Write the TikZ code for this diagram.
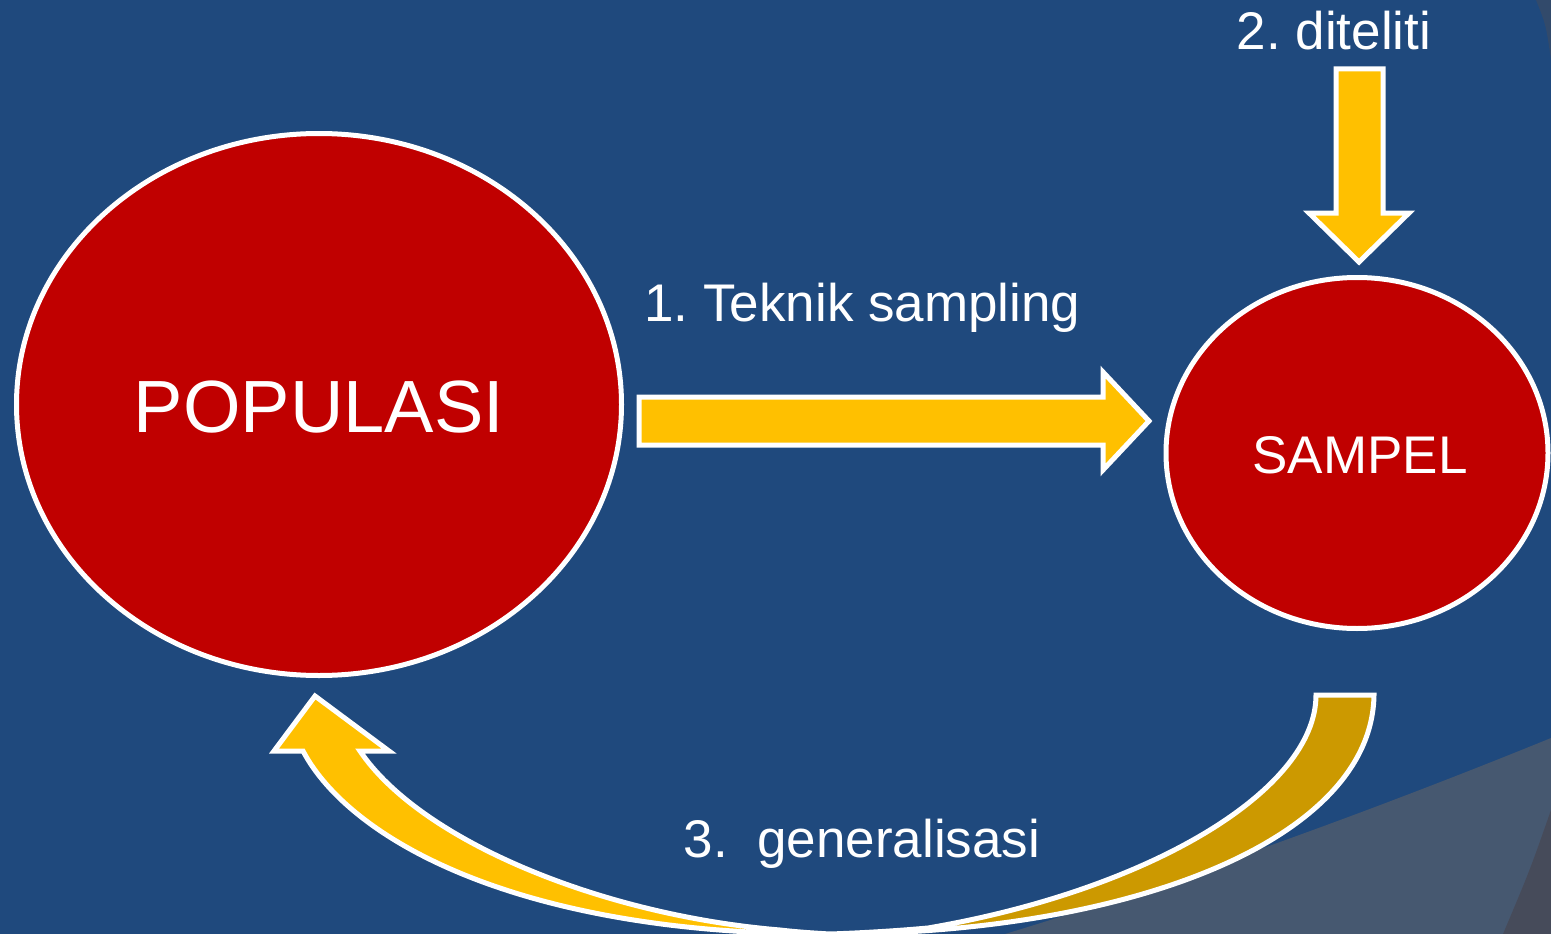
\documentclass[tikz,border=0pt]{standalone}
\usepackage{fontspec}
\setmainfont{Liberation Sans}
\usetikzlibrary{shapes.geometric}
\frenchspacing
\definecolor{bgblue}{RGB}{31,73,125}
\definecolor{popred}{RGB}{192,0,0}
\definecolor{arrowyellow}{RGB}{255,192,0}
\definecolor{arrowdark}{RGB}{204,153,0}
\definecolor{greyshade}{RGB}{70,88,112}
\definecolor{greydark}{RGB}{70,75,90}
\tikzset{
  circ/.style={ellipse, draw=white, line width=5pt, fill=popred, inner sep=0pt, text=white},
  blockarrow/.style={draw=white, line width=5pt, fill=arrowyellow, line join=miter},
  backarrow/.style={draw=white, line width=5pt, fill=arrowdark, line join=miter},
  lbl/.style={text=white, anchor=base, inner sep=0pt, font=\fontsize{53}{60}\selectfont},
}
\begin{document}
\begin{tikzpicture}[x=1pt, y=-1pt]
\useasboundingbox (0,0) rectangle (1551,934);
\clip (0,0) rectangle (1551,934);
% background
\fill[bgblue] (0,0) rectangle (1551,934);
\fill[greyshade] (1551,738) .. controls (1350,820) and (1150,890) .. (1005,934) -- (1551,934) -- cycle;
\fill[greydark] (1551,810) .. controls (1530,870) .. (1503,934) -- (1551,934) -- cycle;
\fill[greydark, opacity=0.5] (1536,0) .. controls (1546,25) .. (1551,60) -- (1551,0) -- cycle;

% ellipses
\node[circ, minimum width=605pt, minimum height=542pt] (pop) at (319,404.5) {};
\node[circ, minimum width=382pt, minimum height=351pt] (samp) at (1357,453) {};
\node[text=white, inner sep=0pt, font=\fontsize{74}{80}\selectfont] (popl) at (319,407) {POPULASI};
\node[text=white, inner sep=0pt, font=\fontsize{53}{60}\selectfont] (sampl) at (1360,455) {SAMPEL};

% 1. straight arrow
\draw[blockarrow] (639,397) -- (1103,397) -- (1103,372) -- (1149,421) -- (1103,470) -- (1103,445) -- (639,445) -- cycle;
% 2. down arrow
\draw[blockarrow] (1336,69) -- (1383,69) -- (1383,213) -- (1409,213) -- (1359,262) -- (1309,213) -- (1336,213) -- cycle;
% 3. curved arrow: back (dark) part
\draw[backarrow] (1316,695) -- (1374,695) .. controls (1372,840) and (1130,934) .. (830,934)
  .. controls (860,933) and (895,931) .. (928,928) .. controls (1150,890) and (1316,790) .. (1316,695) -- cycle;
% front (yellow) part with head
\draw[blockarrow] (303,751) -- (274,751) -- (315,696) -- (389,751) -- (360,751)
  .. controls (420,840) and (600,915) .. (780,930) .. controls (797,932) and (813,933) .. (830,934)
  .. controls (520,935) and (350,840) .. (303,751) -- cycle;

% labels
\node[lbl] (t1) at (862.5,321) {1. Teknik sampling};
\node[lbl] (t2) at (1334,50) {2. diteliti};
\node[lbl] (t3) at (862,857) {3.\ \ generalisasi};
\end{tikzpicture}
\end{document}
